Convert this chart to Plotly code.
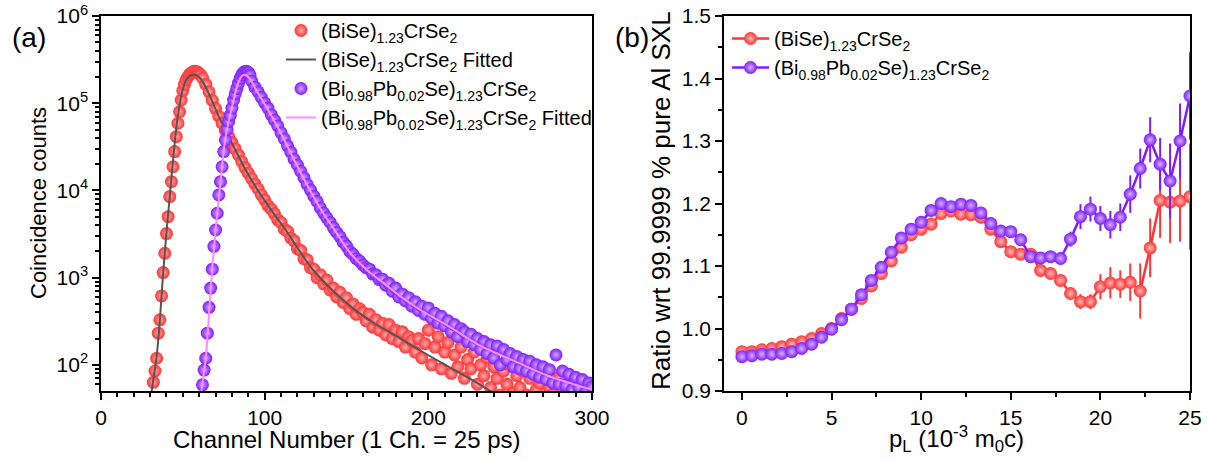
import plotly.graph_objects as go

FONT = 'Liberation Sans, Arial, sans-serif'
RED = '#ff3535'
PURPLE = '#7f1cff'
GRAY = '#555555'
PINK = '#ff8cff'

# ── (a) positron lifetime spectra ────────────────────────────────────────────
red_ch = list(range(32, 62)) + list(range(62, 301, 2))
red_counts = [
    63, 85, 119, 231, 328, 617, 1143, 1905, 3200, 5000,
    8500, 12600, 18700, 27900, 41400, 59000, 80000, 109000, 140000, 165000,
    185000, 200000, 213000, 222000, 229000, 233000, 232000, 228000, 220000, 210000,
    # ch 62..300 step 2
    195000, 165000, 135000, 108000, 87000, 71000, 59000, 49000, 41500, 35500,
    30000, 25500, 21500, 18300, 15800, 13700, 11900, 10400, 8900, 7800,
    6700, 6100, 5400, 4600, 4300, 3600, 3400, 2850, 2650, 2150,
    2050, 1650, 1600, 1300, 1250, 1000, 1080, 850, 940, 720,
    760, 600, 680, 520, 590, 440, 500, 380, 440, 400,
    320, 380, 270, 330, 250, 300, 220, 290, 200, 250,
    185, 240, 160, 210, 190, 140, 200, 120, 175, 250,
    100, 160, 210, 90, 140, 180, 80, 130, 95, 160,
    70, 115, 90, 140, 60, 100, 75, 120, 55, 95,
    70, 45, 85, 60, 100, 48, 75, 55, 85, 45,
    70, 80, 52, 62, 40, 75, 55, 46, 68, 72,
    42, 55, 38, 48, 35, 44, 30, 40, 35, 42,
]
red_fit_ch = [31, 32, 34, 36, 38, 40, 42, 44, 46, 48, 50, 52, 54, 56, 58, 61, 65,
              73, 81, 89, 97, 101, 105, 113, 120, 130, 142, 155, 167, 183, 194,
              212, 228, 238, 244]
red_fit = [50, 68, 125, 330, 1150, 3300, 8500, 22000, 52000, 95000, 145000,
           185000, 205000, 213000, 210000, 190000, 140000, 64000, 32000, 16400,
           9300, 7200, 5600, 3500, 2200, 1200, 700, 430, 300, 200, 150, 96, 65,
           50, 44]

pur_ch = list(range(62, 92)) + list(range(92, 301, 2))
pur_counts = [
    59, 87, 119, 231, 457, 759, 1250, 2290, 3520, 5480,
    8900, 12600, 18700, 27900, 38000, 50000, 62000, 73000, 88000, 109000,
    128000, 148000, 170000, 193000, 212000, 225000, 232000, 233000, 226000, 210000,
    # ch 92..300 step 2
    180000, 153000, 135000, 117000, 101000, 88000, 74000, 64000, 55000, 46000,
    39000, 32500, 27500, 22800, 19600, 16600, 14000, 11700, 10100, 8600,
    7500, 6300, 5500, 4850, 4300, 3750, 3300, 2950, 2550, 2300,
    2000, 1850, 1650, 1550, 1400, 1300, 1250, 1100, 1080, 950,
    960, 820, 860, 700, 760, 600, 650, 540, 590, 470,
    530, 420, 470, 380, 450, 340, 390, 300, 360, 280,
    320, 240, 290, 210, 260, 240, 185, 225, 170, 200,
    150, 185, 135, 170, 120, 165, 100, 150, 115, 135,
    95, 125, 90, 115, 85, 110, 78, 100, 72, 95,
    68, 88, 62, 130, 60, 85, 58, 78, 52, 72,
    55, 68, 48, 62, 56,
]
pur_fit_ch = [61, 62, 64, 66, 68, 70, 72, 74, 76, 78, 80, 82, 84, 86, 88, 91, 95,
              101, 110, 118, 126, 134, 142, 152, 163, 173, 183, 194, 212, 232,
              252, 273, 300]
pur_fit = [45, 62, 120, 380, 1300, 3500, 8000, 19000, 40000, 62000, 90000,
           130000, 175000, 205000, 212000, 190000, 140000, 91000, 45000, 22400,
           11500, 6200, 3700, 1950, 1200, 860, 610, 440, 280, 165, 112, 75, 52]

# ── (b) ratio curves ─────────────────────────────────────────────────────────
pl = [i * 5 / 9 for i in range(46)]
ratio_red = [
    0.963, 0.963, 0.966, 0.968, 0.971, 0.975, 0.979, 0.984, 0.992, 1.000,
    1.016, 1.031, 1.048, 1.068, 1.088, 1.108, 1.130, 1.150, 1.159, 1.167,
    1.184, 1.188, 1.183, 1.182, 1.178, 1.159, 1.139, 1.123, 1.119, 1.119,
    1.093, 1.088, 1.077, 1.056, 1.043, 1.043, 1.067, 1.073, 1.071, 1.074,
    1.060, 1.129, 1.205, 1.202, 1.204, 1.211,
]
err_red = [0.003] * 30 + [0.005, 0.006, 0.008, 0.010, 0.012, 0.012, 0.020, 0.025,
                          0.022, 0.030, 0.044, 0.047, 0.060, 0.065, 0.065, 0.085]
ratio_pur = [
    0.955, 0.9565, 0.959, 0.959, 0.960, 0.963, 0.968, 0.975, 0.986, 0.999,
    1.014, 1.031, 1.054, 1.077, 1.098, 1.122, 1.145, 1.159, 1.170, 1.189,
    1.200, 1.195, 1.199, 1.197, 1.185, 1.168, 1.156, 1.155, 1.142, 1.115,
    1.113, 1.115, 1.112, 1.143, 1.179, 1.191, 1.176, 1.166, 1.178, 1.215,
    1.256, 1.302, 1.263, 1.236, 1.300, 1.372,
]
err_pur = [0.003] * 29 + [0.006, 0.008, 0.008, 0.010, 0.012, 0.020, 0.020, 0.020,
                          0.022, 0.022, 0.030, 0.032, 0.036, 0.042, 0.060, 0.060, 0.070]

NAME_A = '(BiSe)<sub>1.23</sub>CrSe<sub>2</sub>'
NAME_B = '(Bi<sub>0.98</sub>Pb<sub>0.02</sub>Se)<sub>1.23</sub>CrSe<sub>2</sub>'

# full-window figure; the page's default body margin is removed below
W, H = 1214, 462


def px(x):
    return x / W


def py(y):
    return 1 - y / H


def ball(color, light, size):
    return dict(color=color, size=size, line=dict(width=0),
                gradient=dict(type='radial', color=light))


fig = go.Figure()
fig.add_trace(go.Scatter(x=red_ch, y=red_counts, mode='markers', name=NAME_A,
                         marker=ball(RED, '#ffa8a8', 13), legend='legend'))
fig.add_trace(go.Scatter(x=red_fit_ch, y=red_fit, mode='lines', name=NAME_A + ' Fitted',
                         line=dict(color=GRAY, width=2, shape='spline'), legend='legend'))
fig.add_trace(go.Scatter(x=pur_ch, y=pur_counts, mode='markers', name=NAME_B,
                         marker=ball(PURPLE, '#cfa8ff', 13), legend='legend'))
fig.add_trace(go.Scatter(x=pur_fit_ch, y=pur_fit, mode='lines', name=NAME_B + ' Fitted',
                         line=dict(color=PINK, width=2, shape='spline'), legend='legend'))

fig.add_trace(go.Scatter(x=pl, y=ratio_red, mode='lines+markers', name=NAME_A,
                         xaxis='x2', yaxis='y2', legend='legend2',
                         line=dict(color=RED, width=2.5), marker=ball(RED, '#ffb8b8', 13),
                         error_y=dict(array=err_red, color=RED, thickness=2, width=0)))
fig.add_trace(go.Scatter(x=pl, y=ratio_pur, mode='lines+markers', name=NAME_B,
                         xaxis='x2', yaxis='y2', legend='legend2',
                         line=dict(color=PURPLE, width=2.5), marker=ball(PURPLE, '#d4b0ff', 13),
                         error_y=dict(array=err_pur, color=PURPLE, thickness=2, width=0)))

ax = dict(showline=True, linecolor='black', linewidth=1.5, mirror=True,
          ticks='outside', ticklen=7, tickwidth=1.5, tickcolor='black',
          showgrid=False, zeroline=False, automargin=False, ticklabeloverflow='allow',
          tickfont=dict(family=FONT, size=21, color='black'))
mtick = dict(ticks='outside', ticklen=4, tickwidth=1.5, tickcolor='black', showgrid=False)
log_minor = [k * 10 ** n for n in range(1, 6) for k in range(2, 10)]

fig.update_layout(
    width=W, height=H,
    paper_bgcolor='white', plot_bgcolor='white',
    margin=dict(l=0, r=0, t=0, b=0),
    font=dict(family=FONT, color='black'),
    xaxis=dict(**ax, domain=[px(101), px(592)], range=[0, 300], dtick=100,
               minor=dict(dtick=10, **mtick)),
    yaxis=dict(**ax, domain=[py(391), py(16)], type='log',
               range=[1.7, 6.001],
               tickvals=[100, 1000, 10000, 100000, 1000000],
               ticktext=['10<sup>2</sup>', '10<sup>3</sup>', '10<sup>4</sup>',
                         '10<sup>5</sup>', '10<sup>6</sup>'],
               minor=dict(tickmode='array', tickvals=log_minor, **mtick)),
    xaxis2=dict(**ax, domain=[px(724), px(1190)], range=[-1, 25], dtick=5,
                anchor='y2', minor=dict(dtick=2.5, **mtick)),
    yaxis2=dict(**ax, domain=[py(391), py(16)], range=[0.9, 1.5], dtick=0.1,
                anchor='x2', tickformat='.1f', minor=dict(dtick=0.05, **mtick)),
    legend=dict(x=px(281), y=py(11), xanchor='left', yanchor='top',
                bgcolor='rgba(0,0,0,0)', font=dict(family=FONT, size=20),
                tracegroupgap=0, itemwidth=30),
    legend2=dict(x=px(727), y=py(19), xanchor='left', yanchor='top',
                 bgcolor='rgba(0,0,0,0)', font=dict(family=FONT, size=20),
                 tracegroupgap=0, itemwidth=37),
    showlegend=True,
)

ann = dict(xref='paper', yref='paper', showarrow=False, xanchor='center',
           yanchor='middle', font=dict(family=FONT, size=24))
fig.add_annotation(**ann, text='(a)', x=px(29), y=py(37))
fig.add_annotation(**ann, text='(b)', x=px(632), y=py(37))
fig.add_annotation(**ann, text='Coincidence counts', textangle=-90,
                   x=px(38), y=py(203))
fig.add_annotation(**ann, text='Ratio wrt 99.9999 % pure Al SXL', textangle=-90,
                   x=px(661), y=py(201))
fig.add_annotation(**ann, text='Channel Number (1 Ch. = 25 ps)',
                   x=px(347), y=py(439))
fig.add_annotation(**ann, text='p<sub>L</sub> (10<sup>-3</sup> m<sub>0</sub>c)',
                   x=px(956), y=py(439))
fig.update_annotations(selector=dict(text='(a)'), font_size=28)
fig.update_annotations(selector=dict(text='(b)'), font_size=28)
fig.update_annotations(selector=dict(text='Coincidence counts'), font_size=22)
fig.update_annotations(selector=dict(text='Ratio wrt 99.9999 % pure Al SXL'), font_size=26)

fig.write_html('out.html', config={'displayModeBar': False},
               post_script="document.body.style.margin='0';"
                           "document.body.style.overflow='hidden';")
